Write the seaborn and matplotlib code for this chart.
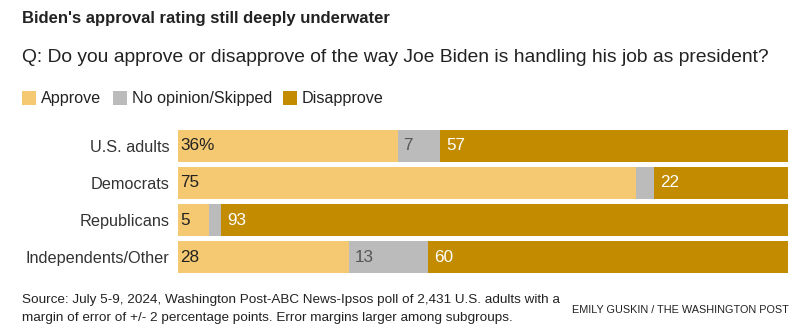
import matplotlib
matplotlib.use("Agg")
import matplotlib.pyplot as plt
import seaborn as sns
import pandas as pd
import numpy as np

categories = ["U.S. adults", "Democrats", "Republicans", "Independents/Other"]
approve = [36, 75, 5, 28]
no_opinion = [7, 3, 2, 13]
disapprove = [57, 22, 93, 60]
approve_labels = ["36%", "75", "5", "28"]
no_opinion_labels = ["7", "", "", "13"]
disapprove_labels = ["57", "22", "93", "60"]
series_names = ["Approve", "No opinion/Skipped", "Disapprove"]

C_APP = "#F5C872"
C_NO = "#BBBBBB"
C_DIS = "#C28B00"
TXT = "#222222"

sns.set_theme(style="white")
plt.rcParams["font.family"] = ["Liberation Sans", "DejaVu Sans"]

W, H = 807, 335
fig = plt.figure(figsize=(W / 100, H / 100), dpi=100)
ax = fig.add_axes([178 / W, (H - 273) / H, 610 / W, 143 / H])

df = pd.DataFrame({"cat": categories, "a": approve, "n": no_opinion, "d": disapprove})
df["an"] = df["a"] + df["n"]
df["and"] = df["an"] + df["d"]

for col, color in [("and", C_DIS), ("an", C_NO), ("a", C_APP)]:
    sns.barplot(data=df, x=col, y="cat", orient="h", color=color, width=0.86,
                linewidth=0, saturation=1, ax=ax, order=categories)

ax.set_xlim(0, 100)
ax.set_ylim(3.43, -0.43)
ax.set_xlabel("")
ax.set_ylabel("")
ax.set_xticks([])
ax.set_yticks(range(len(categories)))
ax.set_yticklabels(categories, fontsize=11.7, color="#333333")
ax.tick_params(axis="y", length=0, pad=6)
for s in ax.spines.values():
    s.set_visible(False)

fs = 12.3
for i in range(len(categories)):
    a, n = approve[i], no_opinion[i]
    ax.text(0.4, i, approve_labels[i], va="center", ha="left", fontsize=fs, color=TXT)
    if no_opinion_labels[i]:
        ax.text(a + 0.9, i, no_opinion_labels[i], va="center", ha="left", fontsize=fs, color="#555555")
    ax.text(a + n + 1.0, i, disapprove_labels[i], va="center", ha="left", fontsize=fs, color="white")

def fy(py):
    return 1 - py / H

fig.text(22 / W, fy(19), "Biden's approval rating still deeply underwater", fontsize=12.0,
         fontweight="bold", color=TXT, va="center", ha="left")
fig.text(22 / W, fy(58), "Q: Do you approve or disapprove of the way Joe Biden is handling his job as president?",
         fontsize=13.9, color=TXT, va="center", ha="left")

# legend
leg_x = [22, 113, 283]
for x0, name, c in zip(leg_x, series_names, [C_APP, C_NO, C_DIS]):
    fig.patches.append(plt.Rectangle((x0 / W, fy(105)), 14 / W, 14 / H, transform=fig.transFigure,
                                     facecolor=c, edgecolor="none"))
    fig.text((x0 + 19) / W, fy(98), name, fontsize=11.6, color=TXT, va="center", ha="left")

fig.text(22 / W, fy(300), "Source: July 5-9, 2024, Washington Post-ABC News-Ipsos poll of 2,431 U.S. adults with a",
         fontsize=9.7, color=TXT, va="center", ha="left")
fig.text(22 / W, fy(318), "margin of error of +/- 2 percentage points. Error margins larger among subgroups.",
         fontsize=9.7, color=TXT, va="center", ha="left")
fig.text(789 / W, fy(310), "EMILY GUSKIN / THE WASHINGTON POST", fontsize=7.8, color=TXT,
         va="center", ha="right")

fig.savefig("out.png", dpi=100, facecolor="white")
